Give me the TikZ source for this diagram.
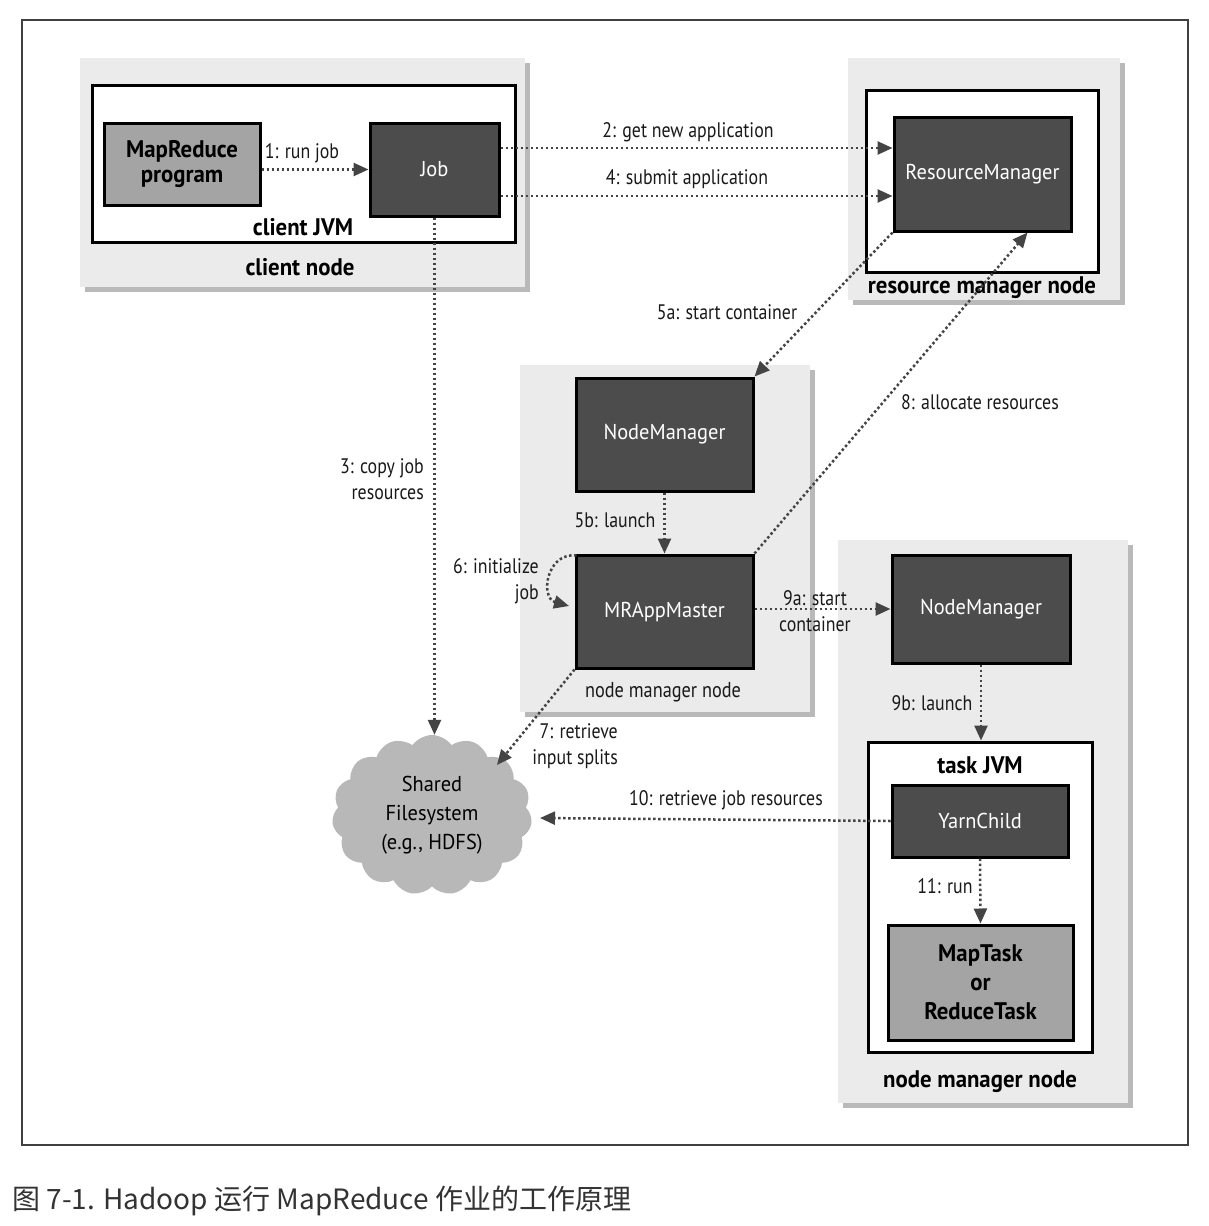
\documentclass[tikz,border=0pt]{standalone}
\usepackage{fontspec}
\setmainfont[FakeStretch=0.95]{PT Sans}
\newfontfamily\lblfont[FakeStretch=0.85]{PT Sans}
\newfontfamily\cjk{Noto Sans CJK SC}
\usetikzlibrary{shapes.symbols,arrows.meta,shadows,calc}
\definecolor{nodebg}{HTML}{EBEBEB}
\definecolor{shadowc}{HTML}{A8A8A8}
\definecolor{darkfill}{HTML}{4C4C4C}
\definecolor{midfill}{HTML}{A4A4A4}
\definecolor{arrc}{HTML}{444444}
\definecolor{cloudc}{HTML}{B8B8B8}
\tikzset{
  hostbox/.style={fill=nodebg, draw=none, inner sep=0pt,
    drop shadow={shadow xshift=5pt,shadow yshift=-5pt,fill=shadowc,opacity=0.8}},
  jvmbox/.style={fill=white, draw=black, line width=3pt, inner sep=0pt},
  darkbox/.style={fill=darkfill, draw=black, line width=3pt, text=white,
    font=\fontsize{21.5}{25}\selectfont, inner sep=0pt},
  midbox/.style={fill=midfill, draw=black, line width=3pt, align=center,
    font=\bfseries\fontsize{24}{29}\selectfont, inner sep=0pt},
  lbl/.style={font=\lblfont\fontsize{21}{26}\selectfont, text=black!90, inner sep=1pt},
  boldlbl/.style={font=\bfseries\fontsize{24}{26}\selectfont, inner sep=1pt},
  arr/.style={draw=arrc, line width=2.5pt, dash pattern=on 2.5pt off 2.5pt,
    -{Triangle[length=15pt,width=13pt]}}
}
\begin{document}
\begin{tikzpicture}[x=1pt,y=-1pt]
\fill[white] (0,0) rectangle (1208,1226);
\useasboundingbox (0,0) rectangle (1208,1226);
\draw[line width=1.2pt, black!75] (22,20) rectangle (1188,1145);

% host boxes
\node[hostbox, minimum width=445pt, minimum height=229pt] (cnode) at (302.5,172.5) {};
\node[hostbox, minimum width=272pt, minimum height=242pt] (rmnode) at (984,179) {};
\node[hostbox, minimum width=290pt, minimum height=347pt] (nm1node) at (665,538.5) {};
\node[hostbox, minimum width=290pt, minimum height=563pt] (nm2node) at (983,821.5) {};

% JVM boxes
\node[jvmbox, minimum width=423pt, minimum height=157pt] (cjvm) at (303.5,163.5) {};
\node[jvmbox, minimum width=232pt, minimum height=182pt] (rmjvm) at (982,181) {};
\node[jvmbox, minimum width=224pt, minimum height=310pt] (tjvm) at (980,897) {};

% inner boxes
\node[midbox, minimum width=156pt, minimum height=82pt] (mrp) at (182,164) {MapReduce\\[-4pt]program};
\node[darkbox, minimum width=129pt, minimum height=93pt] (job) at (434.5,169.5) {Job};
\node[darkbox, minimum width=177pt, minimum height=114pt] (rm) at (982.5,174) {ResourceManager};
\node[darkbox, minimum width=177pt, minimum height=113pt] (nm1) at (664.5,434.5) {NodeManager};
\node[darkbox, minimum width=177pt, minimum height=113pt] (mr) at (664.5,611.5) {MRAppMaster};
\node[darkbox, minimum width=178pt, minimum height=108pt] (nm2) at (981,609) {NodeManager};
\node[darkbox, minimum width=176pt, minimum height=72pt] (yc) at (980,821) {YarnChild};
\node[midbox, minimum width=185pt, minimum height=115pt] (mt) at (980.5,982.5) {MapTask\\or\\ReduceTask};

% cloud
\node[cloud, cloud puffs=15, cloud puff arc=110, aspect=1.25, fill=cloudc,
  minimum width=200pt, minimum height=160pt, align=center, inner sep=0pt,
  font=\fontsize{21.5}{29}\selectfont] (fs) at (432,815) {Shared\\Filesystem\\(e.g., HDFS)};

% box titles
\node[boldlbl] (cjvmt) at (303,227) {client JVM};
\node[boldlbl] (cnodet) at (300,267) {client node};
\node[boldlbl] (rmnodet) at (982,288) {resource manager node};
\node[lbl, font=\lblfont\fontsize{21.5}{26}\selectfont] (nm1t) at (663,692) {node manager node};
\node[boldlbl] (tjvmt) at (980,765) {task JVM};
\node[boldlbl] (nm2t) at (980,1082) {node manager node};

% connectors
\coordinate (rmb) at ($(rm.south west)!0.75!(rm.south east)$);
\coordinate (fs7) at (497,765);
\coordinate (fs10) at (540,818);
\coordinate (c6a) at (546,552);
\coordinate (c6b) at (540,598);
\coordinate (e6) at (569,606);
\draw[arr] (mrp.east |- job.west) -- (job.west);
\draw[arr] (job.east |- 0,148) -- (rm.west |- 0,148);
\draw[arr] (job.east |- 0,196) -- (rm.west |- 0,196);
\draw[arr] (job.south) -- (job.south |- fs.north);
\draw[arr] (rm.south west) -- (nm1.north east);
\draw[arr] (mr.north east) -- (rmb);
\draw[arr] (nm1.south) -- (mr.north);
\draw[arr] ($(mr.north west)+(2,2)$) .. controls (c6a) and (c6b) .. (e6);
\draw[arr] (mr.south west) -- (fs7);
\draw[arr] (mr.east |- nm2.west) -- (nm2.west);
\draw[arr] (nm2.south) -- (nm2.south |- tjvm.north);
\draw[arr] (yc.west) -- (fs10);
\draw[arr] (yc.south) -- (mt.north);

% labels
\node[lbl] (l1) at (302,153) {1: run job};
\node[lbl] (l2) at (688,132) {2: get new application};
\node[lbl] (l4) at (687,179) {4: submit application};
\node[lbl, align=right, anchor=east] (l3) at (425,479) {3: copy job\\resources};
\node[lbl] (l5a) at (727,312) {5a: start container};
\node[lbl] (l8) at (980,402) {8: allocate resources};
\node[lbl] (l5b) at (615,520) {5b: launch};
\node[lbl, align=right, anchor=east] (l6) at (540,581) {6: initialize\\job};
\node[lbl, align=center] (l9a) at (815,611) {9a: start\\container};
\node[lbl, align=right, anchor=east] (l7) at (619,746) {7: retrieve\\input splits};
\node[lbl] (l9b) at (932,703) {9b: launch};
\node[lbl] (l10) at (726,800) {10: retrieve job resources};
\node[lbl] (l11) at (945,886) {11: run};

% caption
\node[anchor=west, inner sep=0pt, text=black!80, font=\cjk\fontsize{28}{32}\selectfont] (cap) at (12,1201) {图 7-1. Hadoop 运行 MapReduce 作业的工作原理};
\end{tikzpicture}
\end{document}
